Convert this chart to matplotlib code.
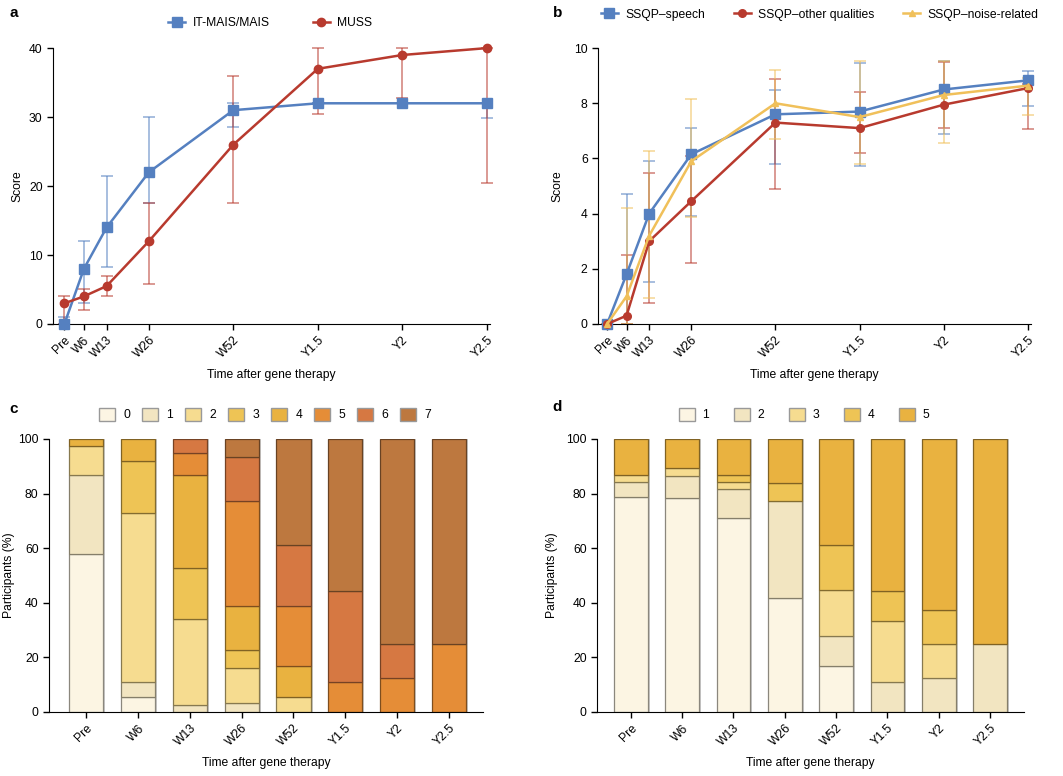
import matplotlib
matplotlib.use("Agg")
import matplotlib.pyplot as plt
from matplotlib.patches import Patch
import numpy as np

plt.rcParams["font.family"] = ["Liberation Sans", "DejaVu Sans"]
plt.rcParams["font.size"] = 8.5

# time points (weeks after therapy) and labels
weeks = [0, 6, 13, 26, 52, 78, 104, 130]
time_labels = ["Pre", "W6", "W13", "W26", "W52", "Y1.5", "Y2", "Y2.5"]

# panel a
mais_med = [0, 8, 14, 22, 31, 32, 32, 32]
mais_lo = [0, 3, 8.2, 17.5, 28.5, 32, 32, 29.8]
mais_hi = [1, 12, 21.5, 30, 32, 32, 32, 32]
muss_med = [3, 4, 5.5, 12, 26, 37, 39, 40]
muss_lo = [0, 2, 4, 5.8, 17.5, 30.5, 32.7, 20.5]
muss_hi = [4, 5, 7, 17.5, 36, 40, 40, 40]

# panel b
speech_med = [0, 1.8, 4.0, 6.15, 7.6, 7.7, 8.5, 8.83]
speech_lo = [0, 0, 1.53, 3.9, 5.8, 5.72, 6.9, 7.91]
speech_hi = [0, 4.7, 5.9, 7.12, 8.49, 9.46, 9.55, 9.17]
other_med = [0, 0.3, 3.0, 4.45, 7.3, 7.1, 7.95, 8.55]
other_lo = [0, 0, 0.75, 2.22, 4.89, 6.19, 7.1, 7.08]
other_hi = [0, 2.5, 5.49, 6.1, 8.89, 8.4, 9.5, 8.7]
noise_med = [0, 1.0, 3.2, 5.9, 8.0, 7.5, 8.3, 8.64]
noise_lo = [0, 0, 0.95, 3.86, 6.69, 5.79, 6.57, 7.59]
noise_hi = [0, 4.19, 6.28, 8.14, 9.19, 9.53, 9.52, 8.9]

# panel c: percentage of participants per category (0..7), one list per category
c_cats = ["0", "1", "2", "3", "4", "5", "6", "7"]
c_vals = [
    [57.9, 5.4, 0, 0, 0, 0, 0, 0],
    [28.9, 5.4, 2.6, 3.2, 0, 0, 0, 0],
    [10.5, 62.2, 31.6, 12.9, 5.6, 0, 0, 0],
    [0, 18.9, 18.4, 6.5, 0, 0, 0, 0],
    [2.7, 8.1, 34.2, 16.1, 11.1, 0, 0, 0],
    [0, 0, 7.9, 38.7, 22.2, 11.1, 12.5, 25],
    [0, 0, 5.3, 16.1, 22.2, 33.3, 12.5, 0],
    [0, 0, 0, 6.5, 38.9, 55.6, 75, 75],
]
c_colors = ["#FCF5E3", "#F2E5C1", "#F6DC90", "#EEC455", "#E9B240",
            "#E58D37", "#D67842", "#BD783F"]

# panel d: categories 1..5
d_cats = ["1", "2", "3", "4", "5"]
d_vals = [
    [78.9, 78.4, 71.1, 41.9, 16.7, 0, 0, 0],
    [5.3, 8.1, 10.5, 35.5, 11.1, 11.1, 12.5, 25],
    [2.6, 2.7, 2.6, 0, 16.7, 22.2, 12.5, 0],
    [0, 0, 2.6, 6.5, 16.7, 11.1, 12.5, 0],
    [13.2, 10.8, 13.2, 16.1, 38.9, 55.6, 62.5, 75],
]
d_colors = ["#FCF5E3", "#F2E5C1", "#F6DC90", "#EEC455", "#E9B240"]

blue = "#5580C0"
red = "#B83A2E"
yellow = "#F0C05A"


def darker(c, f=0.55):
    rgb = np.array(matplotlib.colors.to_rgb(c))
    return tuple(rgb * f)


def style_axes(ax):
    ax.spines["top"].set_visible(False)
    ax.spines["right"].set_visible(False)
    ax.tick_params(direction="out", length=4, width=1, labelsize=8.7)
    ax.set_xlabel("Time after gene therapy", fontsize=8.7, labelpad=6)


def draw_line(ax, med, lo, hi, color, marker, ms, label):
    med = np.array(med)
    yerr = [med - np.array(lo), np.array(hi) - med]
    ax.errorbar(weeks, med, yerr=yerr, fmt="none", ecolor=color, alpha=0.6,
                elinewidth=1.2, capsize=4, capthick=1.2, clip_on=False, zorder=2)
    ax.plot(weeks, med, color=color, lw=1.8, marker=marker, ms=ms,
            label=label, clip_on=False, zorder=3)


def draw_stack(ax, vals, colors):
    x = np.arange(len(time_labels))
    ax.bar(x + 0.04, [100] * len(x), width=0.66, color="#C8C8C8", zorder=1)
    bottom = np.zeros(len(x))
    for v, col in zip(vals, colors):
        v = np.array(v, dtype=float)
        mask = v > 0
        ax.bar(x[mask], v[mask], bottom=bottom[mask], width=0.66, color=col,
               edgecolor=darker(col), linewidth=0.9, zorder=2)
        bottom += v
    ax.set_xticks(x)
    ax.set_xticklabels(time_labels, rotation=45, ha="right", rotation_mode="anchor")
    ax.set_ylim(0, 100)
    ax.set_yticks([0, 20, 40, 60, 80, 100])
    ax.set_xlim(-0.72, 7.66)
    ax.set_ylabel("Participants (%)", fontsize=8.7, labelpad=2)
    style_axes(ax)


fig = plt.figure(figsize=(10.63, 7.76), dpi=100)

# a
ax_a = fig.add_axes([0.0499, 0.5825, 0.411, 0.3555])
draw_line(ax_a, mais_med, mais_lo, mais_hi, blue, "s", 7, "IT-MAIS/MAIS")
draw_line(ax_a, muss_med, muss_lo, muss_hi, red, "o", 6, "MUSS")
ax_a.set_xlim(-3.5, 131)
ax_a.set_ylim(0, 40)
ax_a.set_yticks([0, 10, 20, 30, 40])
ax_a.set_xticks(weeks)
ax_a.set_xticklabels(time_labels, rotation=45, ha="right", rotation_mode="anchor")
ax_a.set_ylabel("Score", fontsize=8.7, labelpad=4)
style_axes(ax_a)
ax_a.legend(loc="lower center", bbox_to_anchor=(0.497, 1.03), ncol=2, frameon=False,
            fontsize=8.7, columnspacing=3.6, handlelength=1.4, handletextpad=0.6)

# b
ax_b = fig.add_axes([0.5626, 0.5825, 0.4074, 0.3555])
draw_line(ax_b, speech_med, speech_lo, speech_hi, blue, "s", 7, "SSQP\u2013speech")
draw_line(ax_b, other_med, other_lo, other_hi, red, "o", 5.5, "SSQP\u2013other qualities")
draw_line(ax_b, noise_med, noise_lo, noise_hi, yellow, "^", 5, "SSQP\u2013noise-related")
ax_b.set_xlim(-2.8, 131)
ax_b.set_ylim(0, 10)
ax_b.set_yticks([0, 2, 4, 6, 8, 10])
ax_b.set_xticks(weeks)
ax_b.set_xticklabels(time_labels, rotation=45, ha="right", rotation_mode="anchor")
ax_b.set_ylabel("Score", fontsize=8.7, labelpad=8)
style_axes(ax_b)
ax_b.legend(loc="lower center", bbox_to_anchor=(0.512, 1.06), ncol=3, frameon=False,
            fontsize=8.7, columnspacing=2.4, handlelength=1.4, handletextpad=0.6)

# c
ax_c = fig.add_axes([0.0461, 0.0825, 0.4083, 0.3518])
draw_stack(ax_c, c_vals, c_colors)
handles_c = [Patch(facecolor=c, edgecolor="#999999", label=l) for c, l in zip(c_colors, c_cats)]
ax_c.legend(handles=handles_c, loc="lower center", bbox_to_anchor=(0.498, 1.025), ncol=8,
            frameon=False, fontsize=8.7, handlelength=1.3, handleheight=1.3,
            columnspacing=1.0, handletextpad=0.7)

# d
ax_d = fig.add_axes([0.5616, 0.0825, 0.4017, 0.3518])
draw_stack(ax_d, d_vals, d_colors)
ax_d.set_xlim(-0.66, 7.66)
ax_d.set_ylabel("Participants (%)", fontsize=8.7, labelpad=6)
handles_d = [Patch(facecolor=c, edgecolor="#999999", label=l) for c, l in zip(d_colors, d_cats)]
ax_d.legend(handles=handles_d, loc="lower center", bbox_to_anchor=(0.485, 1.025), ncol=5,
            frameon=False, fontsize=8.7, handlelength=1.3, handleheight=1.3,
            columnspacing=2.1, handletextpad=0.6)

# panel letters
for txt, x, y in [("a", 0.009, 0.983), ("b", 0.52, 0.983), ("c", 0.009, 0.473), ("d", 0.52, 0.476)]:
    fig.text(x, y, txt, fontsize=11, fontweight="bold", va="center")

fig.savefig("out.png", dpi=100)
